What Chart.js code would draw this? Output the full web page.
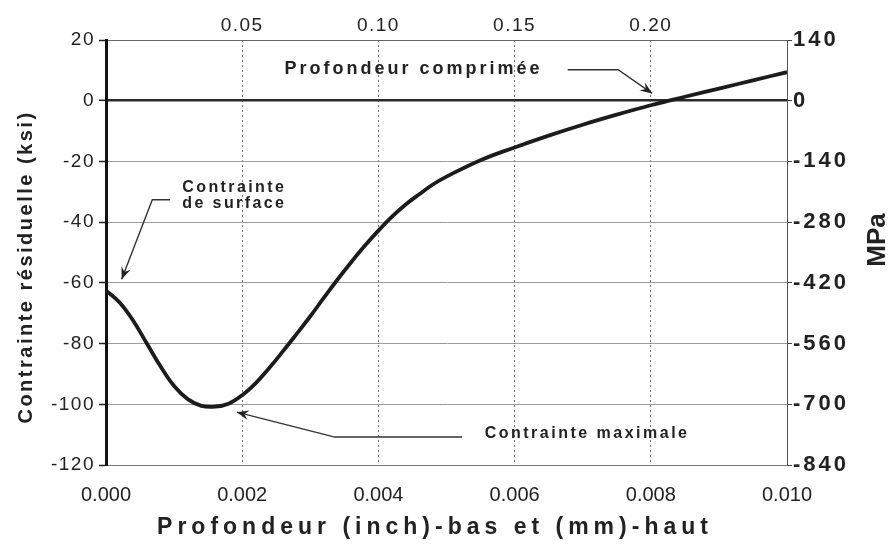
<!DOCTYPE html>
<html>
<head>
<meta charset="utf-8">
<script src="https://cdn.jsdelivr.net/npm/chart.js@4/dist/chart.umd.min.js"></script>
<style>
  html, body { margin: 0; padding: 0; background: #fff; }
  #wrap { width: 890px; height: 547px; }
</style>
</head>
<body>
<div id="wrap"><canvas id="profil"></canvas></div>
<script>
// profondeur (inch) et contrainte résiduelle (ksi)
const depthInch = [0.0000, 0.0002, 0.0004, 0.0006, 0.0008, 0.0010, 0.0012, 0.0014, 0.0016, 0.0018,
                   0.0020, 0.0022, 0.0024, 0.0026, 0.0028, 0.0030, 0.0032, 0.0034, 0.0036, 0.0038,
                   0.0040, 0.0042, 0.0044, 0.0046, 0.0048, 0.0050, 0.0055, 0.0060, 0.0065, 0.0070,
                   0.0075, 0.0080, 0.0085, 0.0090, 0.0095, 0.0100];
const stressKsi = [-62.5, -66.5, -72.5, -80, -87.5, -94, -98.3, -100.5, -100.8, -99.8,
                   -97, -93, -88, -82.5, -76.8, -71, -64.9, -58.9, -53.2, -47.8,
                   -42.8, -38.2, -34.2, -30.8, -27.6, -25.0, -19.6, -15.4, -11.5, -7.9,
                   -4.6, -1.5, 1.3, 4.0, 6.7, 9.4];

const inchTicks = [0.000, 0.002, 0.004, 0.006, 0.008, 0.010];
const mmTicks = [0.05, 0.10, 0.15, 0.20];
const ksiTicks = [-120, -100, -80, -60, -40, -20, 0, 20];
const mpaTicks = [-840, -700, -560, -420, -280, -140, 0, 140];

// flèches : points en unités des axes (inch, ksi)
const notes = [
  { text: ['Profondeur comprimée'], at: [0.00262, 10.5], font: 'bold 18px "Liberation Sans", Arial', spacing: 3,
    path: [[0.00678, 10.2], [0.00752, 10.2], [0.00802, 2.4]] },
  { text: ['Contrainte', 'de surface'], at: [0.00112, -28.5], font: 'bold 16px "Liberation Sans", Arial', spacing: 2.4, lead: 16,
    path: [[0.00094, -32.6], [0.00068, -32.6], [0.00023, -58.8]] },
  { text: ['Contrainte maximale'], at: [0.00556, -109.5], font: 'bold 16px "Liberation Sans", Arial', spacing: 2.5,
    path: [[0.00523, -110.8], [0.00336, -110.8], [0.00192, -102.6]] }
];

// taille fixe de la zone d'axe + espacement des lettres des graduations
const axisBox = (w, h, spacing) => scale => {
  if (w !== undefined) scale.width = w;
  if (h !== undefined) scale.height = h;
  if (spacing && !scale.$spaced) {
    const draw = scale.drawLabels;
    scale.drawLabels = function (area) {
      this.ctx.save();
      this.ctx.letterSpacing = spacing + 'px';
      draw.call(this, area);
      this.ctx.restore();
    };
    scale.$spaced = true;
  }
};
const useTicks = list => scale => { scale.ticks = list.map(v => ({ value: v })); };

function arrowHead(ctx, from, to) {
  const a = Math.atan2(to[1] - from[1], to[0] - from[0]);
  const len = 13, half = 0.38;
  ctx.beginPath();
  ctx.moveTo(to[0], to[1]);
  ctx.lineTo(to[0] - len * Math.cos(a - half), to[1] - len * Math.sin(a - half));
  ctx.lineTo(to[0] - len * 0.6 * Math.cos(a), to[1] - len * 0.6 * Math.sin(a));
  ctx.lineTo(to[0] - len * Math.cos(a + half), to[1] - len * Math.sin(a + half));
  ctx.closePath();
  ctx.fill();
}

const annotations = {
  id: 'annotations',
  afterDraw(chart) {
    const { ctx, scales: { x, y } } = chart;
    const px = p => [x.getPixelForValue(p[0]), y.getPixelForValue(p[1])];
    ctx.save();
    ctx.fillStyle = '#222';
    ctx.strokeStyle = '#333';
    ctx.textBaseline = 'middle';
    ctx.textAlign = 'left';
    notes.forEach(n => {
      ctx.font = n.font;
      ctx.letterSpacing = n.spacing + 'px';
      const [tx, ty] = px(n.at);
      n.text.forEach((line, i) => ctx.fillText(line, tx, ty + i * (n.lead || 0)));
      const pts = n.path.map(px);
      ctx.lineWidth = 1.4;
      ctx.beginPath();
      pts.forEach((p, i) => i ? ctx.lineTo(p[0], p[1]) : ctx.moveTo(p[0], p[1]));
      ctx.stroke();
      arrowHead(ctx, pts[pts.length - 2], pts[pts.length - 1]);
    });

    // titres des axes
    ctx.textAlign = 'center';
    ctx.fillStyle = '#222';
    ctx.font = 'bold 23px "Liberation Sans", Arial';
    ctx.letterSpacing = '5px';
    ctx.fillText('Profondeur (inch)-bas et (mm)-haut', 435, 528);

    ctx.font = 'bold 20px "Liberation Sans", Arial';
    ctx.letterSpacing = '2.5px';
    ctx.save();
    ctx.translate(26, 267);
    ctx.rotate(-Math.PI / 2);
    ctx.fillText('Contrainte résiduelle (ksi)', 0, 0);
    ctx.restore();

    ctx.font = 'bold 26px "Liberation Sans", Arial';
    ctx.letterSpacing = '0px';
    ctx.save();
    ctx.translate(878, 240);
    ctx.rotate(-Math.PI / 2);
    ctx.fillText('MPa', 0, 0);
    ctx.restore();
    ctx.restore();
  }
};

const family = '"Liberation Sans", Arial';

new Chart(document.getElementById('profil'), {
  type: 'line',
  data: {
    datasets: [{
      data: depthInch.map((d, i) => ({ x: d, y: stressKsi[i] })),
      borderColor: '#1c1c1c',
      borderWidth: 3.8,
      pointRadius: 0,
      tension: 0.4,
      fill: false
    }]
  },
  options: {
    responsive: true,
    maintainAspectRatio: false,
    animation: false,
    layout: { padding: 0 },
    plugins: {
      legend: { display: false },
      tooltip: { enabled: false }
    },
    scales: {
      x: {
        type: 'linear',
        position: 'bottom',
        min: 0,
        max: 0.010,
        afterBuildTicks: useTicks(inchTicks),
        afterFit: axisBox(undefined, 82),
        border: { display: true, color: '#777', width: 1, dash: [2, 3] },
        grid: {
          drawTicks: false,
          color: ctx => (ctx.tick && (ctx.tick.value === 0 || ctx.tick.value === 0.010)) ? 'rgba(0,0,0,0)' : '#777',
          lineWidth: 1
        },
        ticks: {
          padding: 18,
          color: '#222',
          font: { family, size: 20 },
          maxRotation: 0,
          callback: v => v.toFixed(3)
        }
      },
      xTop: {
        type: 'linear',
        position: 'top',
        min: 0,
        max: 0.25,
        afterBuildTicks: useTicks(mmTicks),
        afterFit: axisBox(undefined, 40, 1.5),
        border: { display: true, color: '#666', width: 1 },
        grid: { display: false, drawTicks: false },
        ticks: {
          padding: 3,
          color: '#222',
          font: { family, size: 19 },
          maxRotation: 0,
          callback: v => v.toFixed(2)
        }
      },
      y: {
        position: 'left',
        min: -120,
        max: 20,
        afterBuildTicks: useTicks(ksiTicks),
        afterFit: axisBox(106, undefined, 1.5),
        border: { display: true, color: '#111', width: 3 },
        grid: {
          color: ctx => (ctx.tick && ctx.tick.value === 0) ? '#2a2a2a' : '#9a9a9a',
          lineWidth: ctx => (ctx.tick && ctx.tick.value === 0) ? 2.6 : 1,
          tickColor: '#222',
          tickLength: 7,
          tickWidth: 1.5
        },
        ticks: {
          padding: 4,
          color: '#222',
          font: { family, size: 19 }
        }
      },
      yRight: {
        position: 'right',
        min: -840,
        max: 140,
        afterBuildTicks: useTicks(mpaTicks),
        afterFit: axisBox(103, undefined, 3),
        border: { display: true, color: '#555', width: 1 },
        grid: {
          drawOnChartArea: false,
          tickColor: '#444',
          tickLength: 5,
          tickWidth: 1
        },
        ticks: {
          padding: 1,
          color: '#222',
          font: { family, size: 22, weight: 'bold' }
        }
      }
    }
  },
  plugins: [annotations]
});
</script>
</body>
</html>
